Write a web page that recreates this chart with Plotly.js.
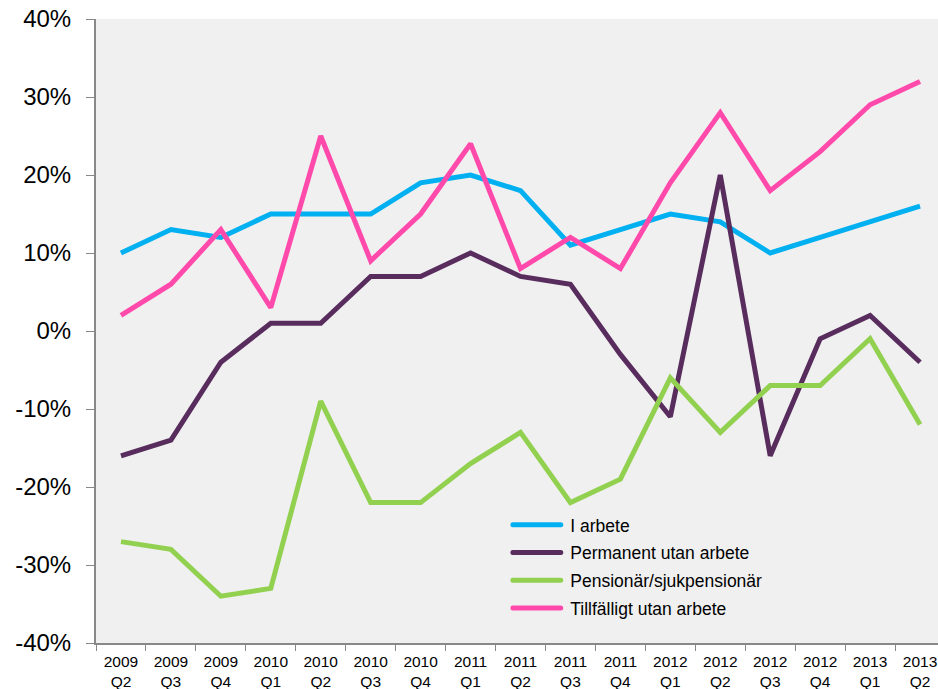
<!DOCTYPE html>
<html><head><meta charset="utf-8">
<script src="https://cdn.plot.ly/plotly-3.0.1.min.js"></script>
<style>html,body{margin:0;padding:0;background:#fff;}</style>
</head><body>
<div id="chart" style="width:938px;height:689px;"></div>
<script>
var categories = ["2009<br>Q2","2009<br>Q3","2009<br>Q4","2010<br>Q1","2010<br>Q2","2010<br>Q3","2010<br>Q4","2011<br>Q1","2011<br>Q2","2011<br>Q3","2011<br>Q4","2012<br>Q1","2012<br>Q2","2012<br>Q3","2012<br>Q4","2013<br>Q1","2013<br>Q2"];
var iArbete = [10,13,12,15,15,15,19,20,18,11,13,15,14,10,12,14,16];
var permanent = [-16,-14,-4,1,1,7,7,10,7,6,-3,-11,20,-16,-1,2,-4];
var pensionar = [-27,-28,-34,-33,-9,-22,-22,-17,-13,-22,-19,-6,-13,-7,-7,-1,-12];
var tillfalligt = [2,6,13,3,25,9,15,24,8,12,8,19,28,18,23,29,32];
var seriesNames = ["I arbete","Permanent utan arbete","Pensionär/sjukpensionär","Tillfälligt utan arbete"];
var yTicks = [-40,-30,-20,-10,0,10,20,30,40];

var colors = ["#00B0F0","#582D5E","#92D050","#FF4AAC"];
var data = [iArbete, permanent, pensionar, tillfalligt].map(function(v,i){
  return {x: categories, y: v, type:"scatter", mode:"lines", name: seriesNames[i],
    legendgroup:"g"+i, line:{color: colors[i], width:5}};
});
var layout = {
  width:938, height:689,
  margin:{l:96, r:0, t:19, b:46},
  paper_bgcolor:"#ffffff", plot_bgcolor:"#F0F0F0",
  showlegend:true,
  legend:{x:0.492, y:0.218, xanchor:"left", yanchor:"top", bgcolor:"rgba(0,0,0,0)",
    traceorder:"grouped", tracegroupgap:2,
    font:{family:"Arial, Liberation Sans", size:17.5, color:"#000"}, itemwidth:50},
  xaxis:{type:"category", range:[-0.5,16.36], tickson:"boundaries", ticks:"outside", ticklen:6,
    tickcolor:"#888", showline:true, linecolor:"#888", linewidth:2, showgrid:false, zeroline:false,
    tickfont:{family:"Arial, Liberation Sans", size:15.5, color:"#000"}, tickangle:0,
    ticklabelstandoff:3},
  yaxis:{range:[-40,40], tickvals:yTicks, ticktext:yTicks.map(function(t){return t+"%";}),
    ticks:"outside", ticklen:8, tickcolor:"#888", showline:true, linecolor:"#888", linewidth:2,
    ticklabelstandoff:10,
    showgrid:false, zeroline:false, tickfont:{family:"Arial, Liberation Sans", size:24, color:"#000"}}
};
Plotly.newPlot("chart", data, layout, {displayModeBar:false, staticPlot:true}).then(function(gd){
  var paths = gd.querySelectorAll(".legend .legendlines path");
  paths.forEach(function(p){
    p.setAttribute("d","M2.5,0h48");
    p.style.strokeLinecap = "round";
  });
});
</script>
</body></html>
